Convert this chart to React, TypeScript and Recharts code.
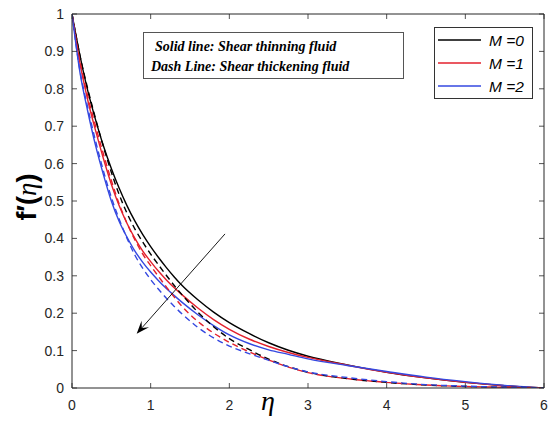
import React from "react";
import { LineChart, Line, XAxis, YAxis, ReferenceLine } from "recharts";

// ---------- data ----------
const ETA = [0, 0.1, 0.2, 0.3, 0.4, 0.5, 0.6, 0.7, 0.8, 0.9, 1.0, 1.1, 1.2, 1.3, 1.4, 1.6, 1.8, 2.0, 2.25, 2.5, 2.75, 3.0, 3.5, 4.0, 4.5, 5.0, 5.5, 6.0];

// Solid lines: shear thinning fluid
const SOLID_M0 = [1, 0.89, 0.795, 0.717, 0.647, 0.587, 0.534, 0.487, 0.446, 0.41, 0.378, 0.349, 0.322, 0.297, 0.274, 0.236, 0.203, 0.175, 0.146, 0.121, 0.101, 0.085, 0.062, 0.042, 0.027, 0.015, 0.006, 0];
const SOLID_M1 = [1, 0.87, 0.77, 0.688, 0.613, 0.545, 0.487, 0.44, 0.4, 0.366, 0.338, 0.312, 0.289, 0.268, 0.249, 0.214, 0.183, 0.157, 0.131, 0.111, 0.095, 0.082, 0.061, 0.042, 0.027, 0.015, 0.006, 0];
const SOLID_M2 = [1, 0.845, 0.74, 0.648, 0.57, 0.5, 0.445, 0.403, 0.366, 0.336, 0.31, 0.287, 0.266, 0.247, 0.229, 0.196, 0.167, 0.142, 0.119, 0.102, 0.09, 0.078, 0.06, 0.044, 0.029, 0.017, 0.007, 0];

// Dashed lines: shear thickening fluid
const DASH_M0 = [1, 0.89, 0.8, 0.72, 0.645, 0.577, 0.517, 0.467, 0.425, 0.39, 0.358, 0.329, 0.301, 0.274, 0.249, 0.203, 0.164, 0.132, 0.103, 0.077, 0.057, 0.042, 0.025, 0.015, 0.008, 0.004, 0.002, 0];
const DASH_M1 = [1, 0.875, 0.78, 0.7, 0.625, 0.555, 0.492, 0.44, 0.396, 0.358, 0.327, 0.298, 0.27, 0.243, 0.218, 0.178, 0.147, 0.122, 0.097, 0.075, 0.056, 0.041, 0.025, 0.015, 0.008, 0.004, 0.002, 0];
const DASH_M2 = [1, 0.85, 0.75, 0.66, 0.58, 0.51, 0.451, 0.4, 0.355, 0.32, 0.29, 0.264, 0.24, 0.218, 0.198, 0.162, 0.134, 0.112, 0.092, 0.074, 0.057, 0.043, 0.028, 0.017, 0.009, 0.005, 0.002, 0];

const X_TICKS = [0, 1, 2, 3, 4, 5, 6];
const Y_TICKS = [0, 0.1, 0.2, 0.3, 0.4, 0.5, 0.6, 0.7, 0.8, 0.9, 1];
const Y_TICK_LABELS = ["0", "0.1", "0.2", "0.3", "0.4", "0.5", "0.6", "0.7", "0.8", "0.9", "1"];

const LEGEND_LABELS = ["M =0", "M =1", "M =2"];
const NOTE_LINES = ["Solid line: Shear thinning fluid", "Dash Line: Shear thickening fluid"];
const ARROW = [
  { x: 1.945, y: 0.412 },
  { x: 0.822, y: 0.145 },
];

// ---------- styling / layout ----------
const W = 559;
const H = 431;
const M_TOP = 14;
const M_RIGHT = 15;
const Y_AXIS_W = 72;
const X_AXIS_H = 43;
const PLOT_RIGHT = W - M_RIGHT;
const PLOT_TOP = M_TOP;

const AXIS_COLOR = "#262626";
const BLACK = "#000000";
const RED = "#e3202c";
const BLUE = "#3448e0";
const COLORS = [BLACK, RED, BLUE];
const SANS = "'Liberation Sans', Arial, Helvetica, sans-serif";
const SERIF = "'Liberation Serif', 'Times New Roman', serif";

const data = ETA.map((eta, i) => ({
  eta,
  s0: SOLID_M0[i],
  s1: SOLID_M1[i],
  s2: SOLID_M2[i],
  d0: DASH_M0[i],
  d1: DASH_M1[i],
  d2: DASH_M2[i],
}));

const SERIES = [
  { key: "s0", color: COLORS[0], dashed: false },
  { key: "s1", color: COLORS[1], dashed: false },
  { key: "s2", color: COLORS[2], dashed: false },
  { key: "d0", color: COLORS[0], dashed: true },
  { key: "d1", color: COLORS[1], dashed: true },
  { key: "d2", color: COLORS[2], dashed: true },
];

const XTick = (props: any) => {
  const { x, y, payload } = props;
  return (
    <g>
      <line x1={x} y1={y} x2={x} y2={y - 5} stroke={AXIS_COLOR} strokeWidth={0.8} />
      <line x1={x} y1={PLOT_TOP} x2={x} y2={PLOT_TOP + 5} stroke={AXIS_COLOR} strokeWidth={0.8} />
      <text x={x} y={y + 22} textAnchor="middle" fontFamily={SANS} fontSize={14} fill={AXIS_COLOR}>
        {String(payload.value)}
      </text>
    </g>
  );
};

const YTick = (props: any) => {
  const { x, y, payload } = props;
  const label = Y_TICK_LABELS[Y_TICKS.indexOf(payload.value)] ?? String(payload.value);
  return (
    <g>
      <line x1={x} y1={y} x2={x + 5} y2={y} stroke={AXIS_COLOR} strokeWidth={0.8} />
      <line x1={PLOT_RIGHT - 5} y1={y} x2={PLOT_RIGHT} y2={y} stroke={AXIS_COLOR} strokeWidth={0.8} />
      <text x={x - 8} y={y + 5} textAnchor="end" fontFamily={SANS} fontSize={14} fill={AXIS_COLOR}>
        {label}
      </text>
    </g>
  );
};

const ArrowShape = (p: any) => {
  const { x1, y1, x2, y2 } = p;
  const dx = x2 - x1;
  const dy = y2 - y1;
  const len = Math.sqrt(dx * dx + dy * dy) || 1;
  const ux = dx / len;
  const uy = dy / len;
  const hl = 13;
  const hw = 5;
  const bx = x2 - ux * hl;
  const by = y2 - uy * hl;
  const nx = -uy;
  const ny = ux;
  const notchX = x2 - ux * hl * 0.6;
  const notchY = y2 - uy * hl * 0.6;
  return (
    <g>
      <line x1={x1} y1={y1} x2={notchX} y2={notchY} stroke={BLACK} strokeWidth={0.9} />
      <polygon
        points={`${x2},${y2} ${bx + nx * hw},${by + ny * hw} ${notchX},${notchY} ${bx - nx * hw},${by - ny * hw}`}
        fill={BLACK}
      />
    </g>
  );
};

export default function App() {
  return (
    <div style={{ position: "fixed", left: 0, top: 0, width: W, height: H, background: "#fff" }}>
      <LineChart
        width={W}
        height={H}
        data={data}
        margin={{ top: M_TOP, right: M_RIGHT, bottom: 0, left: 0 }}
      >
        <XAxis
          dataKey="eta"
          type="number"
          domain={[0, 6]}
          ticks={X_TICKS}
          height={X_AXIS_H}
          tickSize={0}
          tickMargin={0}
          tickLine={false}
          axisLine={{ stroke: AXIS_COLOR, strokeWidth: 1 }}
          tick={<XTick />}
          interval={0}
          allowDataOverflow
          label={{
            content: () => (
              <text x={268} y={410} textAnchor="middle" fontFamily={SERIF} fontStyle="italic" fontSize={28} fill={BLACK}>
                η
              </text>
            ),
          }}
        />
        <YAxis
          type="number"
          domain={[0, 1]}
          ticks={Y_TICKS}
          width={Y_AXIS_W}
          tickSize={0}
          tickMargin={0}
          tickLine={false}
          axisLine={{ stroke: AXIS_COLOR, strokeWidth: 1 }}
          tick={<YTick />}
          interval={0}
          allowDataOverflow
          label={{
            content: () => (
              <text
                x={36}
                y={197}
                textAnchor="middle"
                transform="rotate(-90 36 197)"
                fontSize={27}
                fill={BLACK}
              >
                <tspan fontFamily={SANS} fontWeight="bold">f′</tspan>
                <tspan fontFamily={SANS} fontWeight="bold">(</tspan>
                <tspan fontFamily={SERIF} fontStyle="italic">η</tspan>
                <tspan fontFamily={SANS} fontWeight="bold">)</tspan>
              </text>
            ),
          }}
        />
        <ReferenceLine y={1} stroke={AXIS_COLOR} strokeWidth={1} />
        <ReferenceLine x={6} stroke={AXIS_COLOR} strokeWidth={1} />
        {SERIES.map((s) => (
          <Line
            key={s.key}
            dataKey={s.key}
            type="monotone"
            stroke={s.color}
            strokeWidth={1.4}
            strokeDasharray={s.dashed ? "6 4" : undefined}
            dot={false}
            activeDot={false}
            isAnimationActive={false}
          />
        ))}
        <ReferenceLine segment={ARROW} shape={ArrowShape} ifOverflow="visible" />
      </LineChart>
      <svg
        width={W}
        height={H}
        style={{ position: "absolute", left: 0, top: 0, pointerEvents: "none" }}
      >
        <rect x={143.5} y={32.5} width={260} height={46} fill="#fff" stroke="#555" strokeWidth={1} />
        <text x={155} y={51} fontFamily={SERIF} fontWeight="bold" fontStyle="italic" fontSize={14} fill={BLACK}>
          {NOTE_LINES[0]}
        </text>
        <text x={151} y={71} fontFamily={SERIF} fontWeight="bold" fontStyle="italic" fontSize={14} fill={BLACK}>
          {NOTE_LINES[1]}
        </text>
        <rect x={434.5} y={27.5} width={98} height={71} fill="#fff" stroke="#333" strokeWidth={1} />
        {LEGEND_LABELS.map((lab, i) => (
          <g key={lab}>
            <line x1={438} y1={40 + i * 23} x2={481} y2={40 + i * 23} stroke={COLORS[i]} strokeWidth={1.4} />
            <text x={489} y={45.5 + i * 23} fontFamily={SANS} fontStyle="italic" fontSize={15.5} fill={BLACK}>
              {lab}
            </text>
          </g>
        ))}
      </svg>
    </div>
  );
}
